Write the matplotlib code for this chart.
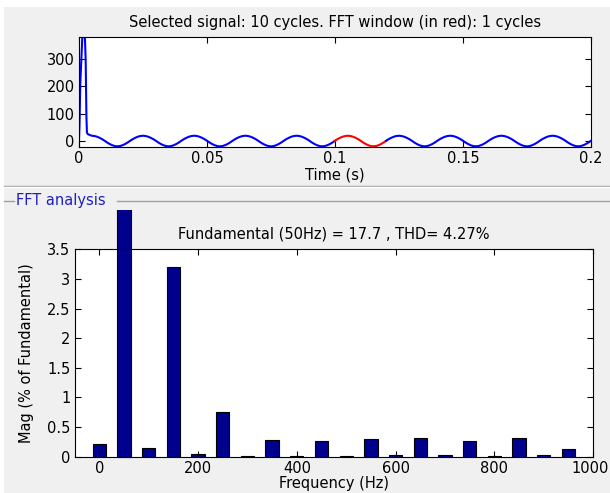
import numpy as np
import matplotlib
matplotlib.use("Agg")
import matplotlib.pyplot as plt
from matplotlib.lines import Line2D
from matplotlib.patches import Rectangle
from matplotlib.transforms import Bbox, TransformedBbox, ScaledTranslation

plt.rcParams['font.family'] = ['DejaVu Sans']
plt.rcParams['font.size'] = 10.5

# start-up transient (s, value)
t_start = [0, 0.0002, 0.0005, 0.0013, 0.0023, 0.0026, 0.0029, 0.0031, 0.0035, 0.004]
v_start = [0, 60, 210, 382, 382, 300, 87, 30, 24, 22]

# one steady cycle, 1 ms steps, starting at an upward zero crossing
cycle_vals = [0, 6, 11, 15, 17.5, 18.5, 17.5, 15, 11, 6,
              0, -6.5, -12, -16.5, -19.5, -20.5, -19.5, -16.5, -12, -6.5]
n_cycles = 10
period = 0.02
win_start, win_end = 0.1, 0.12

# FFT bars
freqs = [0, 50, 100, 150, 200, 250, 300, 350, 400, 450,
         500, 550, 600, 650, 700, 750, 800, 850, 900, 950]
mags = [0.214, 100, 0.152, 3.2, 0.045, 0.76, 0.017, 0.287, 0.017, 0.27,
        0.017, 0.30, 0.03, 0.32, 0.03, 0.27, 0.017, 0.32, 0.03, 0.135]

t_cyc = np.arange(len(cycle_vals)) * 0.001
t_ss = np.concatenate([t_cyc + k * period for k in range(n_cycles)] + [[n_cycles * period]])
v_ss = np.array(cycle_vals * n_cycles + [cycle_vals[0]])
keep = t_ss >= 0.005
t_all = np.concatenate([t_start, t_ss[keep]])
v_all = np.concatenate([v_start, v_ss[keep]])

fig = plt.figure(figsize=(6.1, 4.93), dpi=100)
fig.patch.set_facecolor('white')
# gray panel
fig.patches.append(Rectangle((4 / 610, 0), 1, 1 - 7 / 493, transform=fig.transFigure,
                             facecolor='#f0f0f0', edgecolor='none', zorder=-10))

ax1 = fig.add_axes([79 / 610, 1 - 147 / 493, 512 / 610, 110 / 493])
blue = t_all <= win_start + 1e-9
red = (t_all >= win_start - 1e-9) & (t_all <= win_end + 1e-9)
after = t_all >= win_end - 1e-9
ax1.plot(t_all[blue], v_all[blue], color='#0000ff', lw=1.5)
ax1.plot(t_all[red], v_all[red], color='#ff0000', lw=1.5)
ax1.plot(t_all[after], v_all[after], color='#0000ff', lw=1.5)
ax1.set_xlim(0, 0.2)
ax1.set_ylim(-23, 382)
ax1.set_xticks([0, 0.05, 0.1, 0.15, 0.2])
ax1.set_xticklabels(['0', '0.05', '0.1', '0.15', '0.2'])
ax1.set_yticks([0, 100, 200, 300])
ax1.set_xlabel('Time (s)', labelpad=1)
ax1.set_title('Selected signal: 10 cycles. FFT window (in red): 1 cycles',
              fontsize=10.5, pad=7)

ax2 = fig.add_axes([74.7 / 610, 1 - 456.7 / 493, 518.3 / 610, 207.4 / 493])
bars = ax2.bar(freqs, mags, width=27, color='#00008f', edgecolor='black', linewidth=0.8)
ax2.set_xlim(-50, 1000)
ax2.set_ylim(0, 3.5)
ax2.set_xticks([0, 200, 400, 600, 800, 1000])
ax2.set_yticks([0, 0.5, 1, 1.5, 2, 2.5, 3, 3.5])
ax2.set_yticklabels(['0', '0.5', '1', '1.5', '2', '2.5', '3', '3.5'])
ax2.set_xlabel('Frequency (Hz)', labelpad=0)
ax2.set_ylabel('Mag (% of Fundamental)')
ax2.yaxis.set_label_coords(-0.078, 0.5)
ax2.set_title('Fundamental (50Hz) = 17.7 , THD= 4.27%', fontsize=10.5, pad=8)
# fundamental bar runs past the axes up to the panel frame
fund = bars[1]
fund.set_clip_on(True)
fund.set_clip_box(TransformedBbox(Bbox([[0, 0], [1, 1 - 209.7 / 493]]), fig.transFigure))

for ax in (ax1, ax2):
    ax.tick_params(direction='in', top=True, right=True, length=4, width=0.8,
                   labelsize=10.5, pad=3)
    for s in ax.spines.values():
        s.set_linewidth(0.8)

# keep the last frequency label inside the picture
last = ax2.get_xticklabels()[-1]
last.set_transform(last.get_transform() + ScaledTranslation(-3 / 100, 0, fig.dpi_scale_trans))

# separator and group box
fig.lines.append(Line2D([4 / 610, 1], [1 - 186 / 493] * 2, transform=fig.transFigure,
                        color='#a0a0a0', lw=1))
fig.lines.append(Line2D([4 / 610, 1], [1 - 187 / 493] * 2, transform=fig.transFigure,
                        color='white', lw=1))
fig.lines.append(Line2D([4 / 610, 14 / 610], [1 - 201 / 493] * 2, transform=fig.transFigure,
                        color='#a0a0a0', lw=1))
fig.lines.append(Line2D([117 / 610, 1], [1 - 201 / 493] * 2, transform=fig.transFigure,
                        color='#a0a0a0', lw=1))
fig.text(16 / 610, 1 - 201 / 493, 'FFT analysis', color='#2020c0', fontsize=10.5,
         va='center', ha='left')

fig.savefig('out.png', dpi=100)
